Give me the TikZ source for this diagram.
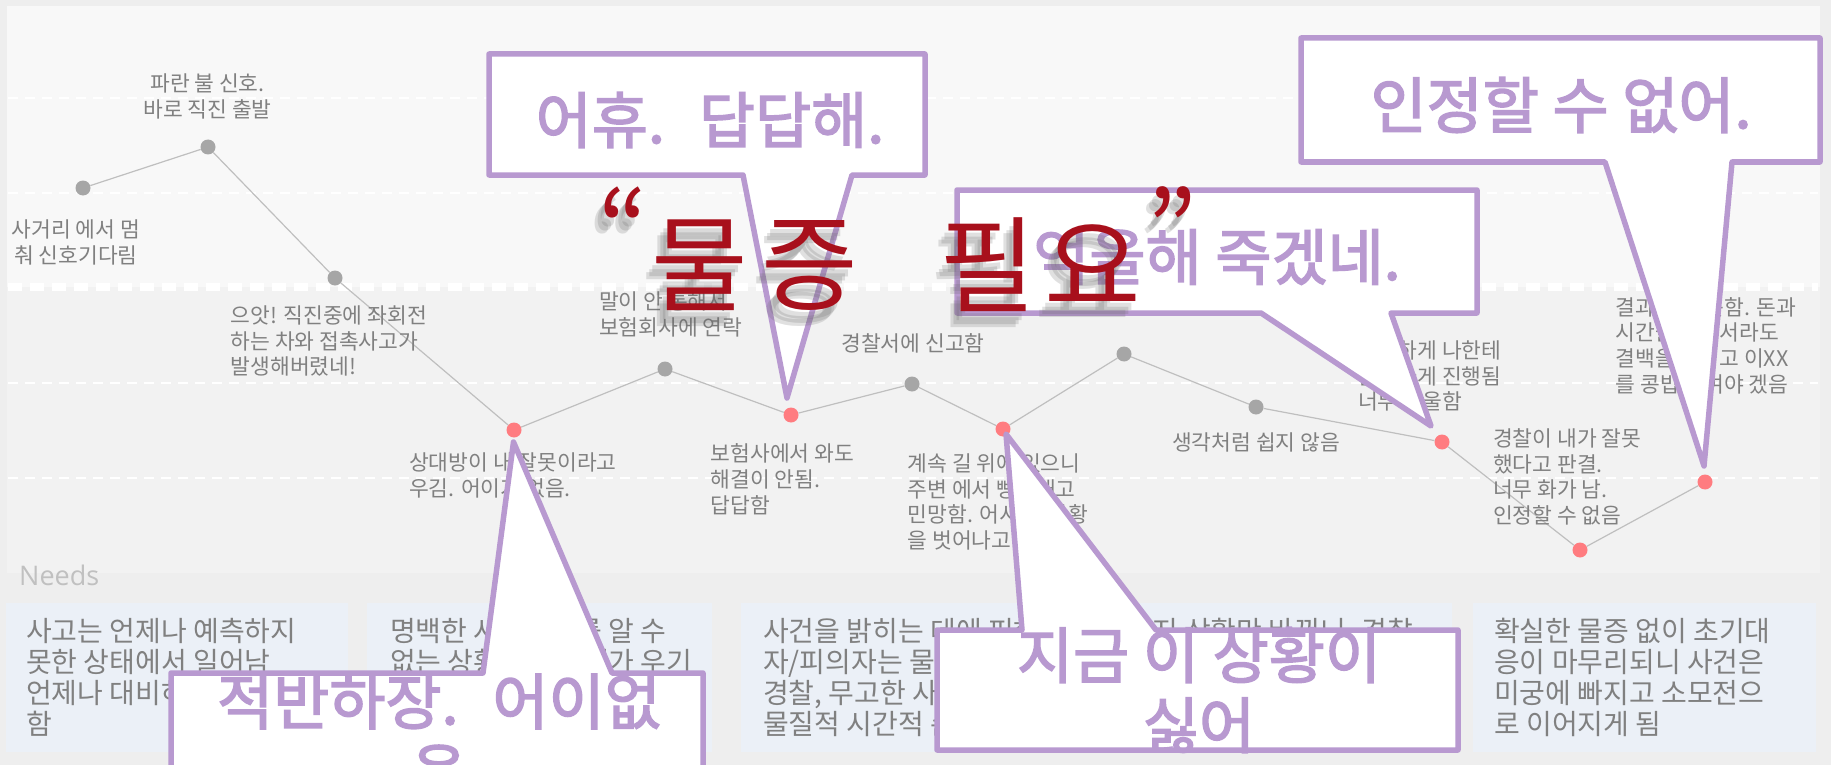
\documentclass[tikz,border=0pt]{standalone}
\usepackage{fontspec}
\setmainfont{Noto Sans CJK KR}
\newfontfamily\needsfont{Open Sans}
\newfontfamily\callfont[FakeBold=2.5]{Noto Sans CJK KR}
\definecolor{bgout}{HTML}{EEEEEE}
\definecolor{bgtop}{HTML}{F8F8F8}
\definecolor{bgmid}{HTML}{F2F2F2}
\definecolor{needbg}{HTML}{EBF0F7}
\definecolor{lblgray}{HTML}{808080}
\definecolor{dotgray}{HTML}{A6A6A6}
\definecolor{dotred}{HTML}{FF7C80}
\definecolor{linegray}{HTML}{BFBFBF}
\definecolor{purp}{HTML}{B899D0}
\definecolor{needsgray}{HTML}{C0C0C0}
\definecolor{bigred}{HTML}{A8101C}
\newcommand\lblsize{\fontsize{21.5}{25.8}\selectfont}
\newcommand\needsize{\fontsize{28}{31}\selectfont}
\newcommand\callsize{\callfont\fontsize{61}{70}\selectfont}
\newcommand\bigsize{\fontsize{105}{110}\selectfont}
\begin{document}
\begin{tikzpicture}[x=1pt,y=-1pt,
  lbl/.style={font=\lblsize, text=lblgray, inner sep=0pt},
  lblL/.style={lbl, align=left, anchor=north west},
  lblC/.style={lbl, align=center, anchor=north},
  needtxt/.style={font=\needsize, text=lblgray, inner sep=0pt, align=left, anchor=north west},
  gdot/.style={circle, fill=dotgray, minimum size=15pt, inner sep=0pt},
  rdot/.style={circle, fill=dotred, minimum size=15pt, inner sep=0pt},
  conn/.style={draw=linegray, line width=1.2pt},
  callout/.style={draw=purp, fill=white, line width=5.5pt, line join=round},
  calltxt/.style={font=\callsize, text=purp, inner sep=0pt, align=center},
  bigtxt/.style={font=\bigsize, text=bigred, inner sep=0pt},
  bigshadow/.style={font=\bigsize, text=black!60, opacity=0.2, inner sep=0pt},
  thindash/.style={draw=white, line width=2.5pt, dash pattern=on 10pt off 7pt},
  thickdash/.style={draw=white, line width=8pt, dash pattern=on 14pt off 8pt},
]
\useasboundingbox (0,0) rectangle (1831,765);
\clip (0,0) rectangle (1831,765);
% backgrounds
\fill[bgout] (0,0) rectangle (1831,765);
\fill[bgtop] (7,6) rectangle (1820,287);
\fill[bgmid] (7,287) rectangle (1820,573);
% dashed guide lines
\draw[thindash] (8,98) -- (1818,98);
\draw[thindash] (8,193) -- (1818,193);
\draw[thickdash] (8,287) -- (1818,287);
\draw[thindash] (8,383) -- (1818,383);
\draw[thindash] (8,478) -- (1818,478);

% Needs section
\node[font=\needsfont\fontsize{27}{30}\selectfont, text=needsgray, anchor=west, inner sep=0pt] (needs) at (19,575) {Needs};
\fill[needbg] (6,603) rectangle (348,752);
\fill[needbg] (367,603) rectangle (712,752);
\fill[needbg] (741,603) rectangle (1084,752);
\fill[needbg] (1106,603) rectangle (1452,752);
\fill[needbg] (1473,603) rectangle (1816,752);
\node[needtxt] (n1) at (26,618) {사고는 언제나 예측하지\\못한 상태에서 일어남\\언제나 대비하고 있어야\\함};
\node[needtxt] (n2) at (390,618) {명백한 사실관계를 알 수\\없는 상황에서 상대가 우기\\만 함};
\node[needtxt] (n3) at (763,618) {사건을 밝히는 데에 피해\\자/피의자는 물증이 필요\\경찰, 무고한 사람 모두\\물질적 시간적 손해};
\node[needtxt] (n4) at (1127,618) {단지 상황만 바뀌니. 경찰\\은 사건을 종결하려\\고만 함};
\node[needtxt] (n5) at (1494,618) {확실한 물증 없이 초기대\\응이 마무리되니 사건은\\미궁에 빠지고 소모전으\\로 이어지게 됨};

% journey dots
\node[gdot] (p1) at (83,188) {};
\node[gdot] (p2) at (208,147) {};
\node[gdot] (p3) at (335,278) {};
\node[rdot] (p4) at (514,430) {};
\node[gdot] (p5) at (665,369) {};
\node[rdot] (p6) at (791,415) {};
\node[gdot] (p7) at (912,384) {};
\node[rdot] (p8) at (1003,429) {};
\node[gdot] (p9) at (1124,354) {};
\node[gdot] (p10) at (1256,407) {};
\node[rdot] (p11) at (1442,442) {};
\node[rdot] (p12) at (1580,550) {};
\node[rdot] (p13) at (1705,482) {};
\draw[conn] (p1) -- (p2) -- (p3) -- (p4) -- (p5) -- (p6) -- (p7) -- (p8) -- (p9) -- (p10) -- (p11) -- (p12) -- (p13);

% labels
\node[lblC] (l1) at (76,219.3) {사거리 에서 멈\\춰 신호기다림};
\node[lblC] (l2) at (207.5,73.3) {파란 불 신호.\\바로 직진 출발};
\node[lblL] (l3) at (230.5,305.3) {으앗! 직진중에 좌회전\\하는 차와 접촉사고가\\발생해버렸네!};
\node[lblL] (l4) at (409,452.3) {상대방이 내 잘못이라고\\우김. 어이가 없음.};
\node[lblL] (l5) at (599,292) {말이 안 통해서\\보험회사에 연락};
\node[lblL] (l6) at (710.6,443.3) {보험사에서 와도\\해결이 안됨.\\답답함};
\node[lblC] (l7) at (913,333.3) {경찰서에 신고함};
\node[lblL] (l8) at (907.5,453.3) {계속 길 위에 있으니\\주변 에서 빵빵대고\\민망함. 어서 이 상황\\을 벗어나고 싶음};
\node[lblC] (l9a) at (1124,297) {곧 해결될 것 같음};
\node[lblC] (l9) at (1256,433) {생각처럼 쉽지 않음};
\node[lblL] (l10) at (1358,340.3) {애매하게 나한테\\불리하게 진행됨\\너무 억울함};
\node[lblL] (l11) at (1615.6,297) {결과 인정 못함. 돈과\\시간을 들여서라도\\결백을 밝히고 이XX\\를 콩밥 먹여야 겠음};
\node[lblL] (l12) at (1493,428.3) {경찰이 내가 잘못\\했다고 판결.\\너무 화가 남.\\인정할 수 없음};

% callouts
\coordinate (t1) at (787,398);
\draw[callout] (489,54) -- (925,54) -- (925,175) -- (852,175) -- (t1) -- (743,175) -- (489,175) -- cycle;
\node[calltxt] (c1) at (710,120) {어휴.\hspace{34pt}답답해.};

\coordinate (t2) at (1431,426);
\draw[callout] (957,190) -- (1477,190) -- (1477,313) -- (1391,313) -- (t2) -- (1261,313) -- (957,313) -- cycle;
\node[calltxt] (c2) at (1217,257) {억울해 죽겠네.};

\coordinate (t3) at (1704,466);
\draw[callout] (1301,38) -- (1820,38) -- (1820,162) -- (1732,162) -- (t3) -- (1605,162) -- (1301,162) -- cycle;
\node[calltxt] (c3) at (1561,105) {인정할 수 없어.};

\coordinate (t4) at (513.5,442);
\draw[callout] (171,673) -- (483,673) -- (t4) -- (612,673) -- (703,673) -- (703,820) -- (171,820) -- cycle;
\node[calltxt] (c4) at (439,736) {적반하장.\hspace{34pt}어이없\\음};

\coordinate (t5) at (1006,434);
\draw[callout] (937,630) -- (1022,630) -- (t5) -- (1156,630) -- (1458,630) -- (1458,750) -- (937,750) -- cycle;
\node[calltxt] (c5) at (1199,690) {지금 이 상황이\\싫어};

% big red title with shadow
\foreach \gx/\gy/\gt [count=\gi] in {623/228/“, 700/265/물, 810/265/증, 988/265/필, 1093/265/요, 1172/228/”} {
  \node[bigshadow, xshift=-4pt, yshift=-9pt] (bsa\gi) at (\gx,\gy) {\gt};
  \node[bigshadow, xshift=-7pt, yshift=-13pt] (bsb\gi) at (\gx,\gy) {\gt};
  \node[bigshadow, xshift=-10pt, yshift=-16pt] (bsc\gi) at (\gx,\gy) {\gt};
  \node[bigtxt] (big\gi) at (\gx,\gy) {\gt};
}
\end{tikzpicture}
\end{document}
